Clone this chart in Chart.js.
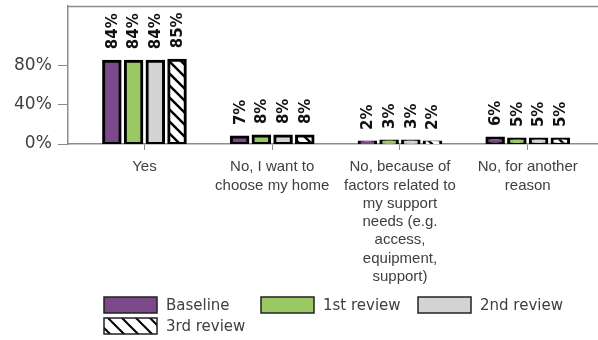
<!DOCTYPE html>
<html>
<head>
<meta charset="utf-8">
<script src="https://cdn.jsdelivr.net/npm/chart.js@4.4.1/dist/chart.umd.min.js"></script>
<style>
  html, body { margin: 0; padding: 0; background: #fff; }
  #wrap { width: 598px; height: 340px; }
</style>
</head>
<body>
<div id="wrap"><canvas id="chart" width="598" height="340"></canvas></div>
<script>
const categories = [
  ["Yes"],
  ["No, I want to", "choose my home"],
  ["No, because of", "factors related to", "my support", "needs (e.g.", "access,", "equipment,", "support)"],
  ["No, for another", "reason"]
];
const seriesNames = ["Baseline", "1st review", "2nd review", "3rd review"];
const baseline = [84, 7, 2, 6];
const review1 = [84, 8, 3, 5];
const review2 = [84, 8, 3, 5];
const review3 = [85, 8, 2, 5];
const yTicks = [0, 40, 80];
const yMax = 140;

const purple = "#7b4889";
const green = "#9ac862";
const grey = "#d3d3d5";
const axisGrey = "#8c8c8c";
const textGrey = "#404040";

// diagonal hatch for the 3rd review
function makeHatch(size, lw) {
  const c = document.createElement("canvas");
  c.width = size; c.height = size;
  const g = c.getContext("2d");
  g.fillStyle = "#fff";
  g.fillRect(0, 0, size, size);
  g.strokeStyle = "#000";
  g.lineWidth = lw;
  g.beginPath();
  g.moveTo(-size / 2, -size / 2); g.lineTo(size * 1.5, size * 1.5);
  g.moveTo(-size / 2, size / 2); g.lineTo(size / 2, size * 1.5);
  g.moveTo(size / 2, -size / 2); g.lineTo(size * 1.5, size / 2);
  g.stroke();
  return g.createPattern(c, "repeat");
}
const ctx = document.getElementById("chart").getContext("2d");
const hatch = makeHatch(12, 2.4);
const legendHatch = makeHatch(14, 2);

const toPoints = arr => arr.map((v, i) => ({ x: i, y: v }));

const valueLabels = {
  id: "valueLabels",
  afterDatasetsDraw(chart) {
    const c = chart.ctx;
    c.save();
    c.font = "bold 15px 'DejaVu Sans'";
    c.fillStyle = "#111";
    c.textAlign = "left";
    c.textBaseline = "middle";
    chart.data.datasets.forEach((ds, di) => {
      chart.getDatasetMeta(di).data.forEach((bar, i) => {
        c.save();
        c.translate(bar.x, bar.y - 12);
        c.rotate(-Math.PI / 2);
        c.fillText(ds.data[i].y + "%", 0, 1);
        c.restore();
      });
    });
    c.restore();
  }
};

const frameTop = {
  id: "frameTop",
  beforeDatasetsDraw(chart) {
    const a = chart.chartArea;
    const c = chart.ctx;
    c.save();
    c.strokeStyle = axisGrey;
    c.lineWidth = 1.5;
    c.beginPath();
    c.moveTo(a.left, a.top + 0.5);
    c.lineTo(chart.width, a.top + 0.5);
    c.stroke();
    c.restore();
  }
};

const gridLegend = {
  id: "gridLegend",
  afterDraw(chart) {
    const c = chart.ctx;
    const left = 104, colW = 157, rowH = 21, top = 297, boxW = 53, boxH = 16;
    c.save();
    c.font = "15px 'DejaVu Sans'";
    c.textBaseline = "middle";
    c.textAlign = "left";
    chart.data.datasets.forEach((ds, i) => {
      const col = i % 3, row = Math.floor(i / 3);
      const x = left + col * colW, y = top + row * rowH;
      c.fillStyle = ds.legendFill || ds.backgroundColor;
      c.fillRect(x, y, boxW, boxH);
      c.strokeStyle = "#222";
      c.lineWidth = 1.5;
      c.strokeRect(x, y, boxW, boxH);
      c.fillStyle = textGrey;
      c.fillText(ds.label, x + boxW + 9, y + boxH / 2 + 1);
    });
    c.restore();
  }
};

const chart = new Chart(ctx, {
  type: "bar",
  data: {
    datasets: [
      { label: seriesNames[0], data: toPoints(baseline), backgroundColor: purple },
      { label: seriesNames[1], data: toPoints(review1), backgroundColor: green },
      { label: seriesNames[2], data: toPoints(review2), backgroundColor: grey },
      { label: seriesNames[3], data: toPoints(review3), backgroundColor: hatch, legendFill: legendHatch }
    ]
  },
  options: {
    responsive: false,
    animation: false,
    events: [],
    layout: { padding: { left: 8, top: 4, right: 0, bottom: 56 } },
    datasets: {
      bar: {
        borderColor: "#000",
        borderWidth: 3,
        borderSkipped: false,
        inflateAmount: 1.5,
        categoryPercentage: 0.68,
        barPercentage: 0.76
      }
    },
    plugins: {
      legend: { display: false },
      tooltip: { enabled: false }
    },
    scales: {
      x: {
        type: "linear",
        min: -0.6,
        max: 3.55,
        offset: false,
        grid: { display: true, offset: false, drawOnChartArea: false, tickLength: 6, color: axisGrey },
        border: { color: axisGrey, width: 1.5 },
        ticks: {
          stepSize: 1,
          includeBounds: false,
          autoSkip: false,
          maxRotation: 0,
          padding: 8,
          color: textGrey,
          font: { family: "'Liberation Sans', Arial, sans-serif", size: 15, lineHeight: 1.22 },
          callback: v => (Number.isInteger(v) && categories[v]) ? categories[v] : ""
        }
      },
      y: {
        min: 0,
        max: yMax,
        grid: {
          drawOnChartArea: false,
          tickLength: 10,
          color: c => (c.tick && c.tick.value > 100) ? "rgba(0,0,0,0)" : axisGrey
        },
        border: { color: axisGrey, width: 1.5 },
        // an unlabelled tick at the top keeps the plot from being padded down
        afterBuildTicks: axis => { axis.ticks = yTicks.concat([yMax]).map(v => ({ value: v })); },
        ticks: {
          padding: 6,
          color: textGrey,
          font: c => ({ family: "'DejaVu Sans', sans-serif", size: (c.tick && c.tick.value > 100) ? 0.1 : 17 }),
          callback: v => v > 100 ? "" : v + "%"
        }
      }
    }
  },
  plugins: [frameTop, valueLabels, gridLegend]
});
</script>
</body>
</html>
